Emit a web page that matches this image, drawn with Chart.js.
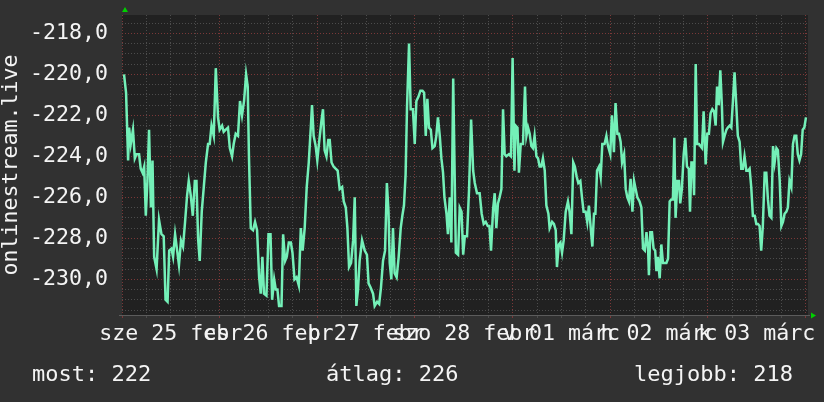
<!DOCTYPE html>
<html><head><meta charset="utf-8">
<script src="https://cdn.jsdelivr.net/npm/chart.js@4.4.1/dist/chart.umd.min.js"></script>
<style>
html,body{margin:0;padding:0;background:#313131;}
#wrap{position:relative;width:824px;height:402px;overflow:hidden;background:#313131;}
#c{position:absolute;left:0;top:0;}
.stat{position:absolute;top:363px;font-family:"DejaVu Sans Mono",monospace;font-size:22px;line-height:22px;color:#f4f4f4;white-space:pre;}
</style></head><body>
<div id="wrap">
<canvas id="c" width="824" height="402"></canvas>
<div class="stat" id="s0" style="left:32px"></div>
<div class="stat" id="s1" style="left:326px"></div>
<div class="stat" id="s2" style="left:634px"></div>
</div>
<script>
// hours since Wed 25 Feb 00:00
const hours = [
0.5,1.0,1.5,1.75,2.15,2.7,3.15,3.55,4.2,4.6,
5.05,5.45,5.85,6.25,6.65,7.1,7.5,7.9,8.5,9.1,
9.7,10.25,10.7,11.2,11.6,12.15,12.55,13.05,13.55,14.0,
14.5,15.0,15.5,16.0,16.4,16.9,17.4,17.9,18.3,18.7,
19.1,19.6,20.1,20.6,21.15,21.55,22.0,22.55,23.05,23.6,
24.0,24.6,25.0,25.5,26.05,26.5,27.05,27.45,27.95,28.5,
29.0,29.5,30.0,30.5,30.9,31.2,31.65,32.2,32.7,33.2,
33.7,34.1,34.5,34.9,35.5,36.0,36.5,36.9,37.4,37.8,
38.2,38.6,39.2,39.6,40.1,40.5,41.0,41.5,41.9,42.4,
42.9,43.45,43.95,44.4,44.9,45.4,45.9,46.4,46.7,47.1,
47.6,48.0,48.4,49.0,49.4,49.8,50.25,50.7,51.05,51.5,
52.0,52.5,53.0,53.5,54.1,54.5,55.0,55.4,55.8,56.3,
56.8,57.2,57.6,58.0,58.4,59.0,59.65,60.2,60.6,61.1,
61.7,62.1,62.7,63.2,63.65,64.15,64.65,65.1,65.5,65.8,
66.2,66.6,67.0,67.5,68.0,68.5,68.9,69.3,69.7,70.05,
70.55,70.95,71.5,71.95,72.35,72.85,73.35,73.85,74.25,74.65,
75.05,75.45,75.9,76.3,76.85,77.25,77.65,78.1,78.5,78.9,
79.25,79.75,80.1,80.55,80.95,81.4,82.05,82.6,83.0,83.45,
83.85,84.25,84.8,85.3,85.8,86.3,86.7,87.25,87.9,88.4,
88.9,89.4,89.9,90.3,90.7,91.2,91.6,92.0,92.4,92.8,
93.25,93.65,94.05,94.45,95.1,95.6,96.0,96.45,96.75,97.2,
97.55,98.0,98.55,99.05,99.4,99.8,100.2,100.6,101.0,101.4,
101.85,102.25,102.65,103.05,103.45,103.9,104.3,104.8,105.1,105.7,
106.15,106.6,106.9,107.35,107.75,108.15,108.55,109.05,109.6,110.0,
110.45,110.9,111.3,111.75,112.15,112.65,113.05,113.45,113.95,114.35,
114.75,115.2,115.6,116.0,116.35,116.75,117.25,117.65,118.05,118.6,
119.05,119.45,120.0,120.4,120.9,121.3,121.75,122.15,122.55,122.9,
123.4,123.8,124.2,124.6,125.0,125.45,125.85,126.25,126.65,127.2,
127.65,128.05,128.5,128.9,129.3,129.5,129.85,130.25,130.65,131.05,
131.35,131.7,132.15,132.55,132.95,133.35,133.8,134.2,134.6,135.0,
135.4,135.75,136.05,136.5,136.9,137.2,137.6,138.05,138.45,138.85,
139.3,139.6,139.95,140.35,140.6,141.0,141.35,141.8,142.15,142.55,
142.95,143.45,143.85,144.25,144.65,145.1,145.5,145.9,146.25,146.65,
147.05,147.45,147.7,148.1,148.55,148.9,149.35,149.75,150.15,150.55,
151.0,151.35,151.8,152.2,152.6,153.0,153.45,153.85,154.25,154.65,
155.05,155.5,155.9,156.3,156.7,157.1,157.5,157.95,158.35,158.75,
159.15,159.6,160.0,160.4,160.85,161.2,161.65,162.05,162.45,162.85,
163.3,163.65,164.05,164.5,164.9,165.3,165.7,166.1,166.5,166.9,
167.3,167.7,168.1
];
const values = [
-220.0,-220.9,-224.2,-222.6,-223.4,-222.7,-224.1,-223.9,-223.9,-224.6,
-224.8,-224.5,-226.9,-225.2,-222.7,-226.5,-224.2,-228.9,-229.5,-227.1,
-227.8,-227.9,-231.0,-231.1,-228.6,-228.5,-228.9,-227.8,-228.6,-229.3,
-228.1,-228.4,-227.2,-225.9,-225.2,-225.9,-226.9,-225.2,-225.2,-228.0,
-229.1,-226.7,-225.5,-224.3,-223.4,-223.4,-222.5,-223.0,-219.7,-222.1,
-222.7,-222.5,-222.8,-222.7,-222.6,-223.6,-224.0,-223.4,-222.9,-223.0,
-221.3,-222.0,-221.3,-220.0,-220.6,-224.0,-227.5,-227.6,-227.2,-227.6,
-229.9,-230.7,-228.9,-230.7,-230.8,-227.8,-227.8,-231.0,-230.0,-230.5,
-230.5,-231.3,-231.3,-227.8,-229.1,-228.9,-228.2,-228.2,-228.7,-230.0,
-229.9,-230.3,-227.5,-228.6,-227.5,-225.5,-224.3,-222.6,-221.5,-223.0,
-223.5,-224.2,-223.4,-222.3,-221.7,-223.7,-224.0,-223.2,-223.2,-224.3,
-224.5,-224.6,-224.7,-225.6,-225.5,-226.2,-226.5,-227.5,-229.4,-229.2,
-228.1,-226.0,-231.3,-230.5,-229.1,-228.1,-228.6,-228.8,-230.2,-230.4,
-230.7,-231.3,-231.1,-231.2,-230.4,-229.1,-228.6,-225.3,-226.7,-229.2,
-230.0,-227.5,-229.7,-229.9,-228.9,-227.5,-226.9,-226.4,-224.9,-221.6,
-218.5,-221.7,-221.7,-223.4,-221.3,-221.1,-220.8,-220.8,-220.9,-223.0,
-221.2,-222.6,-222.7,-223.6,-223.5,-223.0,-222.1,-223.0,-224.1,-224.8,
-226.0,-226.8,-227.8,-226.0,-228.2,-220.2,-228.7,-228.8,-226.5,-226.7,
-228.8,-227.9,-227.9,-225.6,-222.2,-224.7,-225.3,-225.8,-225.8,-226.8,
-227.3,-227.2,-227.4,-227.4,-228.6,-226.6,-225.8,-227.5,-226.3,-226.0,
-225.6,-221.7,-223.9,-224.0,-223.9,-224.0,-219.2,-224.7,-222.5,-222.6,
-224.8,-223.4,-223.4,-220.6,-223.0,-222.6,-222.9,-223.5,-223.6,-223.0,
-224.0,-224.1,-224.5,-224.5,-224.1,-224.7,-226.4,-226.8,-227.5,-227.2,
-227.3,-227.6,-229.4,-228.3,-228.2,-228.7,-228.1,-226.7,-226.2,-226.7,
-227.8,-224.3,-224.5,-225.0,-225.3,-225.2,-226.0,-226.7,-226.7,-227.2,
-226.4,-227.5,-228.4,-226.8,-226.8,-224.7,-224.5,-225.0,-223.4,-223.4,
-223.0,-223.5,-223.9,-222.0,-223.8,-221.4,-222.9,-222.9,-223.3,-224.3,
-223.9,-225.6,-226.0,-226.2,-225.1,-226.7,-225.2,-225.6,-226.0,-226.2,
-226.5,-228.5,-228.6,-227.7,-228.5,-229.8,-227.7,-227.7,-228.5,-228.6,
-229.6,-228.9,-229.95,-228.3,-229.2,-229.2,-229.2,-229.0,-226.2,-226.1,
-226.1,-223.1,-227.0,-225.2,-225.2,-226.3,-225.6,-223.9,-223.1,-224.5,
-224.6,-226.7,-224.3,-224.3,-225.9,-219.5,-223.4,-223.4,-223.5,-223.6,
-221.8,-224.4,-222.9,-222.9,-221.9,-221.7,-221.8,-222.5,-220.6,-221.5,
-219.8,-221.6,-223.3,-223.0,-222.7,-222.6,-222.5,-222.6,-221.3,-219.9,
-221.6,-223.0,-223.3,-224.6,-224.6,-224.0,-224.7,-224.7,-224.6,-225.5,
-226.9,-226.9,-227.3,-227.3,-227.4,-228.6,-227.4,-224.8,-224.8,-226.1,
-226.9,-227.0,-223.5,-224.3,-223.6,-223.7,-225.2,-227.4,-227.2,-226.8,
-226.7,-226.5,-225.2,-225.5,-223.4,-223.0,-223.0,-223.9,-224.2,-223.9,
-222.7,-222.6,-222.1
];
// day labels centred at noon of each day
const dayLabels = ["sze 25 febr","cs 26 febr","p 27 febr","szo 28 febr","v 01 márc","h 02 márc","k 03 márc"];
const yLabelValues = [-218,-220,-222,-224,-226,-228,-230];
const statLabels = ["most:","átlag:","legjobb:"];
const statValues = ["222","226","218"];
const axisTitle = "onlinestream.live";

const X_MIN = 0, X_MAX = 168.6;
const Y_MIN = -231.74, Y_MAX = -217.106;
const LINE = '#74f0b8';
const RED = '#7a3838';
const GRAY = '#4c4c4c';
const TXT = '#f4f4f4';
const FONT = {family:'"DejaVu Sans Mono", monospace', size:21.6};

statLabels.forEach((l,i)=>{ document.getElementById('s'+i).textContent = l+' '+statValues[i]; });

const gridHours = []; for (let h=0; h<=168; h+=6) gridHours.push(h);
const yGrid = []; for (let v=-231.5; v<=-217.4; v+=0.5) yGrid.push(Math.round(v*10)/10);

const decor = {
  id:'decor',
  beforeDraw(chart){
    const {ctx, chartArea:a} = chart;
    ctx.save();
    ctx.fillStyle = '#313131'; ctx.fillRect(0,0,chart.width,chart.height);
    ctx.fillStyle = '#212121'; ctx.fillRect(a.left, a.top, a.right-a.left, a.bottom-a.top);
    ctx.restore();
  },
  afterDraw(chart){
    const {ctx, chartArea:a} = chart;
    ctx.save();
    ctx.strokeStyle = '#5c5c5c'; ctx.lineWidth = 1;
    ctx.beginPath(); ctx.moveTo(a.left-3, a.bottom+0.5); ctx.lineTo(a.right+2, a.bottom+0.5); ctx.stroke();
    ctx.fillStyle = '#00d000';
    ctx.beginPath(); ctx.moveTo(a.left+3, a.top-8); ctx.lineTo(a.left, a.top-3); ctx.lineTo(a.left+6, a.top-3); ctx.closePath(); ctx.fill();
    ctx.beginPath(); ctx.moveTo(a.right+8, a.bottom+0.5); ctx.lineTo(a.right+3, a.bottom-2.5); ctx.lineTo(a.right+3, a.bottom+3.5); ctx.closePath(); ctx.fill();
    ctx.restore();
  }
};

new Chart(document.getElementById('c'), {
  type:'line',
  data:{datasets:[{
    data: hours.map((h,i)=>({x:h, y:values[i]})),
    borderColor: LINE, borderWidth: 2.5, pointRadius: 0, tension: 0, fill: false
  }]},
  options:{
    responsive:false, animation:false, devicePixelRatio:1,
    layout:{padding:{left:0, right:16, top:15, bottom:0}},
    plugins:{legend:{display:false}, tooltip:{enabled:false}},
    scales:{
      x:{
        type:'linear', min:X_MIN, max:X_MAX,
        afterBuildTicks: s => { s.ticks = gridHours.map(v=>({value:v})); },
        afterFit: s => { s.height = 87; s.paddingLeft = 0; s.paddingRight = 0; },
        grid:{ color: c => (c.tick && c.tick.value % 24 === 0) ? RED : GRAY, lineWidth:1,
               drawTicks:true, tickLength:3, tickColor: c => (c.tick && c.tick.value % 24 === 0) ? RED : GRAY },
        border:{ display:false, dash:[1,2] },
        ticks:{ autoSkip:false, maxRotation:0, minRotation:0, padding:3, color:TXT, font:FONT,
                callback: v => (v % 24 === 12) ? dayLabels[(v-12)/24] : '' }
      },
      y:{
        type:'linear', min:Y_MIN, max:Y_MAX,
        afterBuildTicks: s => { s.ticks = yGrid.map(v=>({value:v})); },
        afterFit: s => { s.width = 122; s.paddingTop = 0; s.paddingBottom = 0; },
        grid:{ color: c => (c.tick && yLabelValues.includes(c.tick.value)) ? RED : GRAY, lineWidth:1, drawTicks:false },
        border:{ display:false, dash:[1,2] },
        ticks:{ autoSkip:false, padding:14, color:TXT, font:FONT,
                callback: v => yLabelValues.includes(v) ? v.toFixed(1).replace('.', ',') : '' },
        title:{ display:true, text:axisTitle, color:TXT, font:{family:'"DejaVu Sans Mono", monospace', size:21.6, lineHeight:1.1}, padding:{top:0,bottom:0} }
      }
    }
  },
  plugins:[decor]
});
</script>
</body></html>
